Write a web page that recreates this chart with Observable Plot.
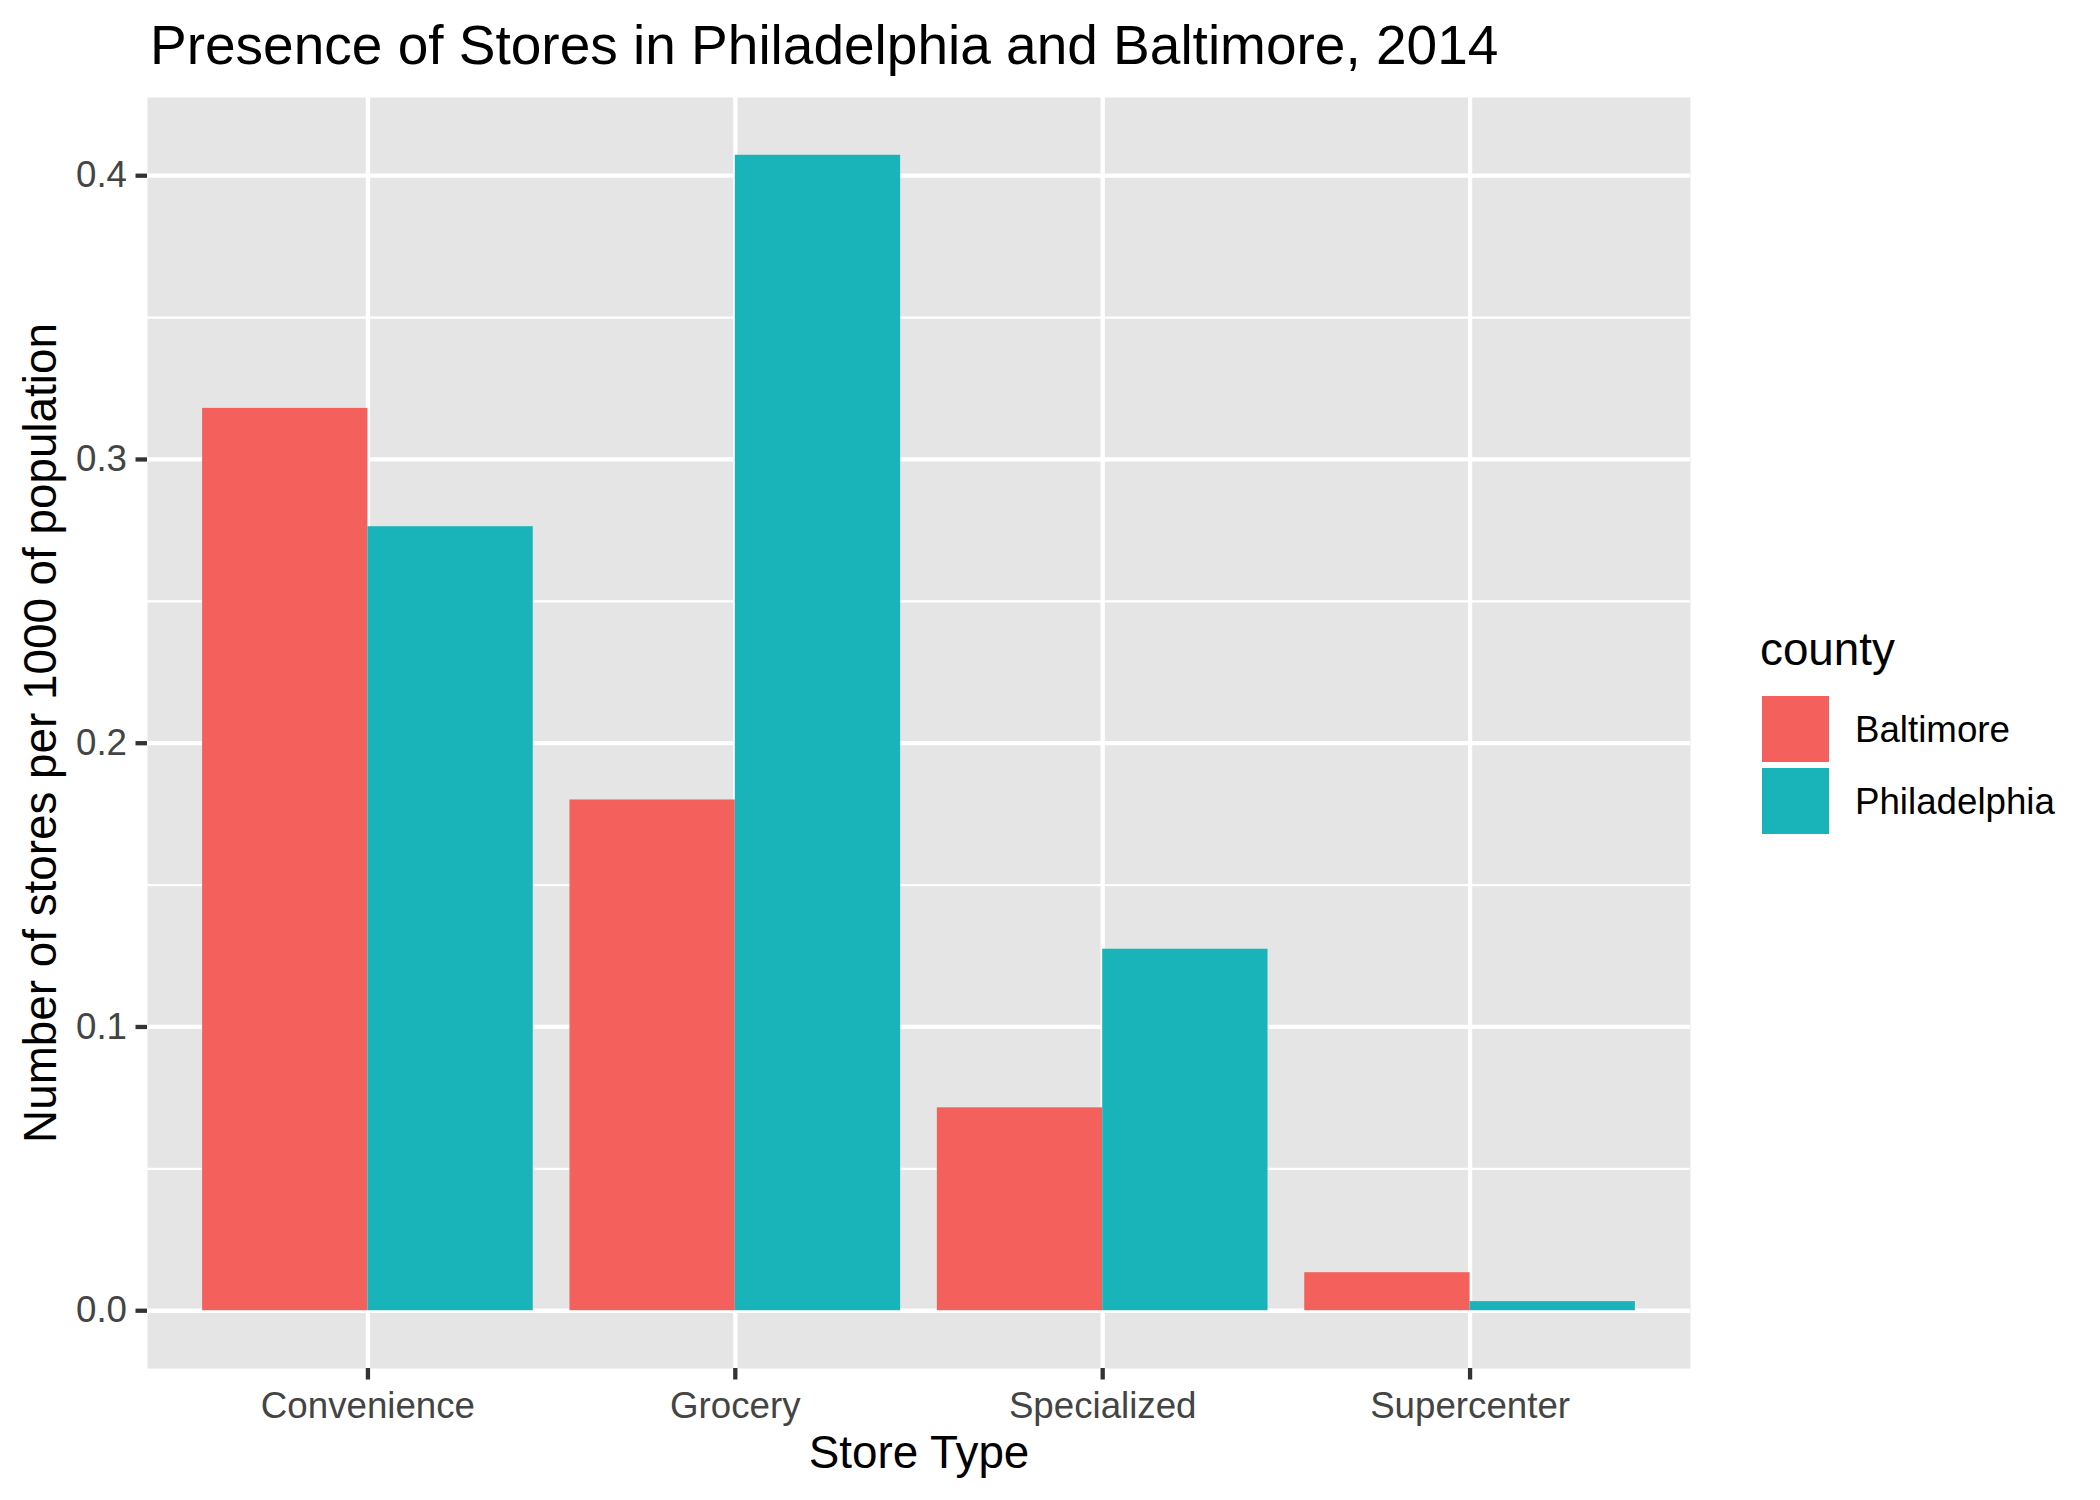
<!DOCTYPE html>
<html><head><meta charset="utf-8">
<script src="https://cdn.jsdelivr.net/npm/d3@7"></script>
<script src="https://cdn.jsdelivr.net/npm/@observablehq/plot@0.6"></script>
<style>
html,body{margin:0;padding:0;background:#fff;}
#chart{position:relative;width:2100px;height:1500px;}
</style></head><body><div id="chart"></div>
<script>
const categories = ["Convenience", "Grocery", "Specialized", "Supercenter"];
const counties = ["Baltimore", "Philadelphia"];
const baltimore = [0.318, 0.180, 0.0715, 0.0134];
const philadelphia = [0.2763, 0.4072, 0.1274, 0.0032];
const yTicks = [0, 0.1, 0.2, 0.3, 0.4];
const yMinorTicks = [0.05, 0.15, 0.25, 0.35];
const colors = ["#F4605C", "#18B4B9"];
const title = "Presence of Stores in Philadelphia and Baltimore, 2014";
const xTitle = "Store Type";
const yTitle = "Number of stores per 1000 of population";
const legendTitle = "county";

const font = "'Liberation Sans', Arial, Helvetica, sans-serif";
const data = categories.flatMap((c, i) => [
  {category: c, county: counties[0], value: baltimore[i], idx: i + 1, k: 0},
  {category: c, county: counties[1], value: philadelphia[i], idx: i + 1, k: 1}
]);
const barWidth = 0.9, dodge = barWidth / counties.length;
const maxV = d3.max(data, d => d.value);
const yDomain = [0 - maxV * 0.05, maxV * 1.05];
const catIdx = categories.map((c, i) => i + 1);

const plot = Plot.plot({
  width: 2100, height: 1500,
  marginLeft: 147, marginRight: 410, marginTop: 97, marginBottom: 132,
  style: {fontFamily: font, background: "white", overflow: "visible"},
  x: {type: "linear", domain: [0.4, categories.length + 0.6]},
  y: {domain: yDomain},
  color: {domain: counties, range: colors},
  marks: [
    Plot.frame({fill: "#E5E5E5", stroke: "none"}),
    Plot.gridY(yMinorTicks, {stroke: "white", strokeOpacity: 1, strokeWidth: 2.2}),
    Plot.gridY(yTicks, {stroke: "white", strokeOpacity: 1, strokeWidth: 4.3}),
    Plot.gridX(catIdx, {stroke: "white", strokeOpacity: 1, strokeWidth: 4.3}),
    Plot.rectY(data, {
      x1: d => d.idx - barWidth / 2 + d.k * dodge,
      x2: d => d.idx - barWidth / 2 + (d.k + 1) * dodge,
      y1: 0, y2: "value", fill: "county"
    }),
    Plot.axisY(yTicks, {tickSize: 11.5, tickPadding: 9, tickFormat: d3.format(".1f"),
      fontSize: 36.7, fill: "#444444", stroke: "#333333", strokeWidth: 4.3, label: null}),
    Plot.axisX(catIdx, {tickSize: 11.5, tickPadding: 11.5, tickFormat: i => categories[i - 1],
      fontSize: 36.7, fill: "#444444", stroke: "#333333", strokeWidth: 4.3, label: null}),
    Plot.text([xTitle], {text: d => d, frameAnchor: "bottom", dy: 99, lineAnchor: "bottom",
      textAnchor: "middle", fontSize: 45.8, fill: "black"}),
    Plot.text([yTitle], {text: d => d, frameAnchor: "left", dx: -92, rotate: -90,
      textAnchor: "middle", lineAnchor: "bottom", fontSize: 45.8, fill: "black"})
  ]
});

const svg = d3.select(plot);
svg.append("text").attr("x", 150).attr("y", 64).attr("font-size", 55)
  .attr("text-anchor", "start").attr("fill", "black").text(title);

const color = plot.scale("color");
const lg = svg.append("g").attr("text-anchor", "start");
lg.append("text").attr("x", 1760).attr("y", 665).attr("font-size", 45.8)
  .attr("fill", "black").text(legendTitle);
counties.forEach((c, i) => {
  lg.append("rect").attr("x", 1762).attr("y", 696 + i * 72).attr("width", 67).attr("height", 66)
    .attr("fill", color.apply(c));
  lg.append("text").attr("x", 1855).attr("y", 742 + i * 72).attr("font-size", 36.7)
    .attr("fill", "black").text(c);
});

document.getElementById("chart").appendChild(plot);
</script></body></html>
